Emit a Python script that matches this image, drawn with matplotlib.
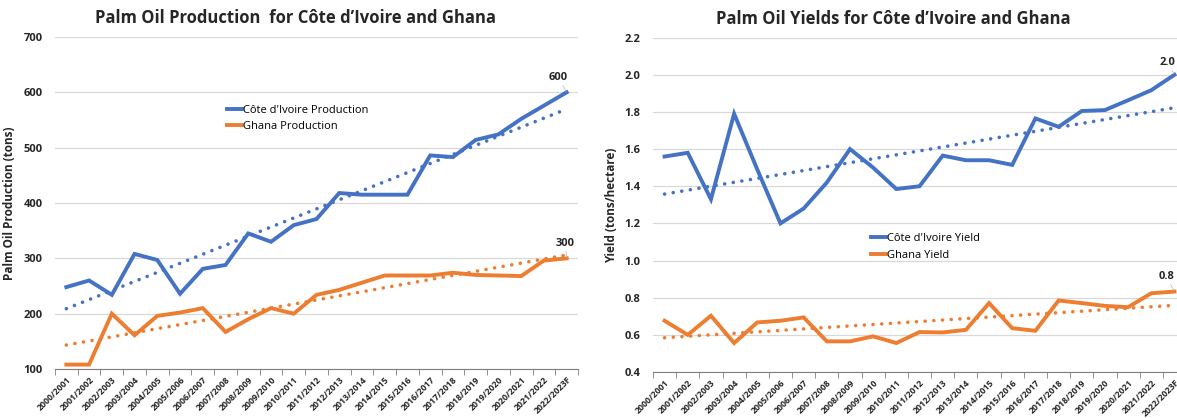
import numpy as np
import matplotlib.pyplot as plt

plt.rcParams['font.family'] = ['Open Sans', 'DejaVu Sans']

seasons = ["2000/2001", "2001/2002", "2002/2003", "2003/2004", "2004/2005", "2005/2006",
           "2006/2007", "2007/2008", "2008/2009", "2009/2010", "2010/2011", "2011/2012",
           "2012/2013", "2013/2014", "2014/2015", "2015/2016", "2016/2017", "2017/2018",
           "2018/2019", "2019/2020", "2020/2021", "2021/2022", "2022/2023F"]

ci_prod = [248, 260, 234, 308, 297, 236, 281, 288, 345, 330, 360, 371,
           418, 415, 415, 415, 486, 483, 514, 524, 552, 576, 600]
gh_prod = [108, 108, 200, 161, 196, 202, 210, 167, 190, 210, 200, 234,
           243, 256, 269, 269, 269, 274, 270, 269, 268, 296, 300]

ci_yield = [1.56, 1.58, 1.33, 1.79, 1.49, 1.20, 1.28, 1.42, 1.60, 1.50, 1.385, 1.40,
            1.565, 1.54, 1.54, 1.515, 1.765, 1.72, 1.805, 1.81, 1.863, 1.917, 2.0]
gh_yield = [0.676, 0.600, 0.703, 0.556, 0.667, 0.676, 0.694, 0.565, 0.565, 0.592, 0.556, 0.615,
            0.613, 0.627, 0.771, 0.636, 0.622, 0.785, 0.771, 0.756, 0.749, 0.824, 0.833]

blue = '#4472C4'
orange = '#ED7D31'
txt = '#262626'

fig = plt.figure(figsize=(11.77, 4.18), dpi=100)
ax1 = fig.add_axes([0.0467, 0.1172, 0.4444, 0.7943])
ax2 = fig.add_axes([0.5548, 0.110, 0.4529, 0.800])

x = np.arange(len(seasons))


def draw(ax, a, b, la, lb, ylim, yticks, yfmt, ylabel, title, leg_loc, labels, offsets):
    for vals, col, lab in [(a, blue, la), (b, orange, lb)]:
        ax.plot(x, vals, color=col, lw=2.8, label=lab, solid_joinstyle='miter', zorder=3)
        k, c = np.polyfit(x, vals, 1)
        ax.plot(x, k * x + c, color=col, lw=2.6, linestyle=(0, (0.01, 2.4)),
                dash_capstyle='round', zorder=2)
    ax.set_xlim(-0.5, len(seasons) - 0.5)
    ax.set_ylim(*ylim)
    ax.set_yticks(yticks)
    ax.set_yticklabels([yfmt.format(v) for v in yticks], fontsize=8, fontweight='bold', color=txt)
    ax.tick_params(axis='y', length=0, pad=9)
    ax.set_xticks(x)
    ax.set_xticklabels(seasons, rotation=45, ha='right', rotation_mode='anchor',
                       fontsize=6.3, fontweight='bold', color=txt)
    ax.set_xticks(np.arange(-0.5, len(seasons)), minor=True)
    ax.tick_params(axis='x', which='major', length=0, pad=4.5)
    ax.tick_params(axis='x', which='minor', length=4, color='#7f7f7f')
    ax.grid(axis='y', color='#d9d9d9', lw=0.9)
    ax.set_axisbelow(True)
    for s in ['top', 'right', 'left']:
        ax.spines[s].set_visible(False)
    ax.spines['bottom'].set_color('#7f7f7f')
    ax.spines['bottom'].set_zorder(4)
    ax.set_ylabel(ylabel, fontsize=8.5, fontweight='bold', color=txt, labelpad=5)
    ax.set_title(title, fontsize=12, fontweight='bold', color=txt, pad=10)
    ax.legend(loc='upper left', bbox_to_anchor=leg_loc, frameon=False, fontsize=8,
              handlelength=1.4, handletextpad=0.1, labelspacing=0.5, borderaxespad=0)
    n = len(seasons) - 1
    for v, lab, off in zip([a[-1], b[-1]], labels, offsets):
        ax.annotate(lab, xy=(n, v), xytext=off, textcoords='offset points',
                    ha='center', va='bottom', fontsize=8, fontweight='bold', color=txt,
                    arrowprops=dict(arrowstyle='-', color='#bfbfbf', lw=0.6,
                                    shrinkA=0, shrinkB=1))


draw(ax1, ci_prod, gh_prod, "Côte d'Ivoire Production", "Ghana Production",
     (100, 700), [100, 200, 300, 400, 500, 600, 700], '{:.0f}',
     'Palm Oil Production (tons)', 'Palm Oil Production  for Côte d\u2019Ivoire and Ghana',
     (0.32, 0.81), ['600', '300'], [(-6, 7), (-1, 7)])
draw(ax2, ci_yield, gh_yield, "Côte d'Ivoire Yield", "Ghana Yield",
     (0.4, 2.2), [0.4, 0.6, 0.8, 1.0, 1.2, 1.4, 1.6, 1.8, 2.0, 2.2], '{:.1f}',
     'Yield (tons/hectare)', 'Palm Oil Yields for Côte d\u2019Ivoire and Ghana',
     (0.40, 0.428), ['2.0', '0.8'], [(-5, 5), (-6, 7)])
ax1.title.set_position((0.46, 1.0))
ax2.title.set_position((0.45, 1.0))

fig.savefig('out.png', dpi=100)
